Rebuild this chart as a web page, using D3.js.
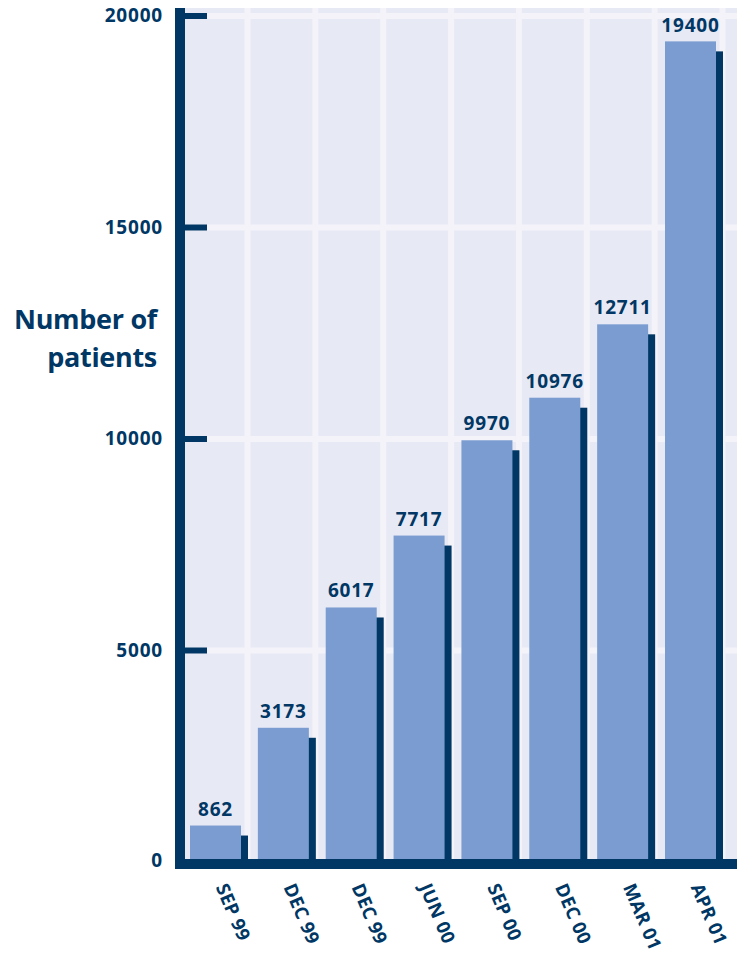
<!DOCTYPE html>
<html>
<head>
<meta charset="utf-8">
<script src="https://cdn.jsdelivr.net/npm/d3@7"></script>
<style>
  html, body { margin: 0; padding: 0; background: #ffffff; }
  svg { display: block; }
  text { font-family: "Open Sans", "Noto Sans", sans-serif; font-weight: 700; fill: #003764; }
</style>
</head>
<body>
<svg id="chart" width="737" height="956"></svg>
<script>
const categories = ["SEP 99", "DEC 99", "DEC 99", "JUN 00", "SEP 00", "DEC 00", "MAR 01", "APR 01"];
const values = [862, 3173, 6017, 7717, 9970, 10976, 12711, 19400];
const yTicks = [0, 5000, 10000, 15000, 20000];
const yTitle = ["Number of", "patients"];

const dark = "#003764", barFill = "#7a9cd0", bg = "#e7e9f5", grid = "#f4f3f9";
const svg = d3.select("#chart");

const x = d3.scaleBand().domain(d3.range(categories.length)).range([190, 716]).paddingInner(0.2485).paddingOuter(0);
const y = d3.scaleLinear().domain([0, 20000]).range([862, 16]);

const plotLeft = 185, plotRight = 737, plotTop = 8, baseTop = 859;

// background
svg.append("rect").attr("x", plotLeft).attr("y", plotTop).attr("width", plotRight - plotLeft).attr("height", baseTop - plotTop).attr("fill", bg);

// horizontal gridlines
svg.append("g").selectAll("rect").data(yTicks.filter(d => d > 0)).join("rect")
  .attr("x", plotLeft).attr("width", plotRight - plotLeft)
  .attr("y", d => y(d) - 3).attr("height", 6).attr("fill", grid);

// vertical gridlines
svg.append("g").selectAll("rect").data(d3.range(categories.length)).join("rect")
  .attr("x", i => x(i) + x.bandwidth() + 3.5).attr("width", 6)
  .attr("y", plotTop).attr("height", baseTop - plotTop).attr("fill", grid);

// shadows
svg.append("g").selectAll("rect").data(values).join("rect")
  .attr("x", (d, i) => x(i) + 7).attr("width", x.bandwidth())
  .attr("y", d => y(d) + 10).attr("height", d => y(0) - y(d) - 10)
  .attr("fill", dark);

// bars
svg.append("g").selectAll("rect").data(values).join("rect")
  .attr("x", (d, i) => x(i)).attr("width", x.bandwidth())
  .attr("y", d => y(d)).attr("height", d => y(0) - y(d))
  .attr("fill", barFill);

// value labels
svg.append("g").selectAll("text").data(values).join("text")
  .attr("x", (d, i) => x(i) + x.bandwidth() / 2)
  .attr("y", d => Math.max(y(d) - 10, 32))
  .attr("text-anchor", "middle").attr("font-size", 19).attr("letter-spacing", 0.8)
  .text(d => d);

// y axis line and ticks
svg.append("rect").attr("x", 175).attr("y", plotTop).attr("width", 10).attr("height", 869 - plotTop).attr("fill", dark);
svg.append("g").selectAll("rect").data(yTicks.filter(d => d > 0)).join("rect")
  .attr("x", plotLeft).attr("width", 22).attr("y", d => y(d) - 3).attr("height", 6).attr("fill", dark);
// bottom axis
svg.append("rect").attr("x", 175).attr("y", baseTop).attr("width", plotRight - 175).attr("height", 10).attr("fill", dark);

// y tick labels
svg.append("g").selectAll("text").data(yTicks).join("text")
  .attr("x", 163).attr("y", d => Math.min(y(d) + 6, 867))
  .attr("text-anchor", "end").attr("font-size", 19).attr("letter-spacing", 0.8)
  .text(d => d);

// y title
svg.append("g").selectAll("text").data(yTitle).join("text")
  .attr("x", 157).attr("y", (d, i) => 329 + i * 38)
  .attr("text-anchor", "end").attr("font-size", 27).attr("letter-spacing", -0.3)
  .text(d => d);

// x labels
svg.append("g").selectAll("text").data(categories).join("text")
  .attr("transform", (d, i) => `translate(${x(i) + x.bandwidth() / 2},887) rotate(67)`)
  .attr("text-anchor", "start").attr("font-size", 18.5).attr("letter-spacing", 0.3)
  .text(d => d);
</script>
</body>
</html>
